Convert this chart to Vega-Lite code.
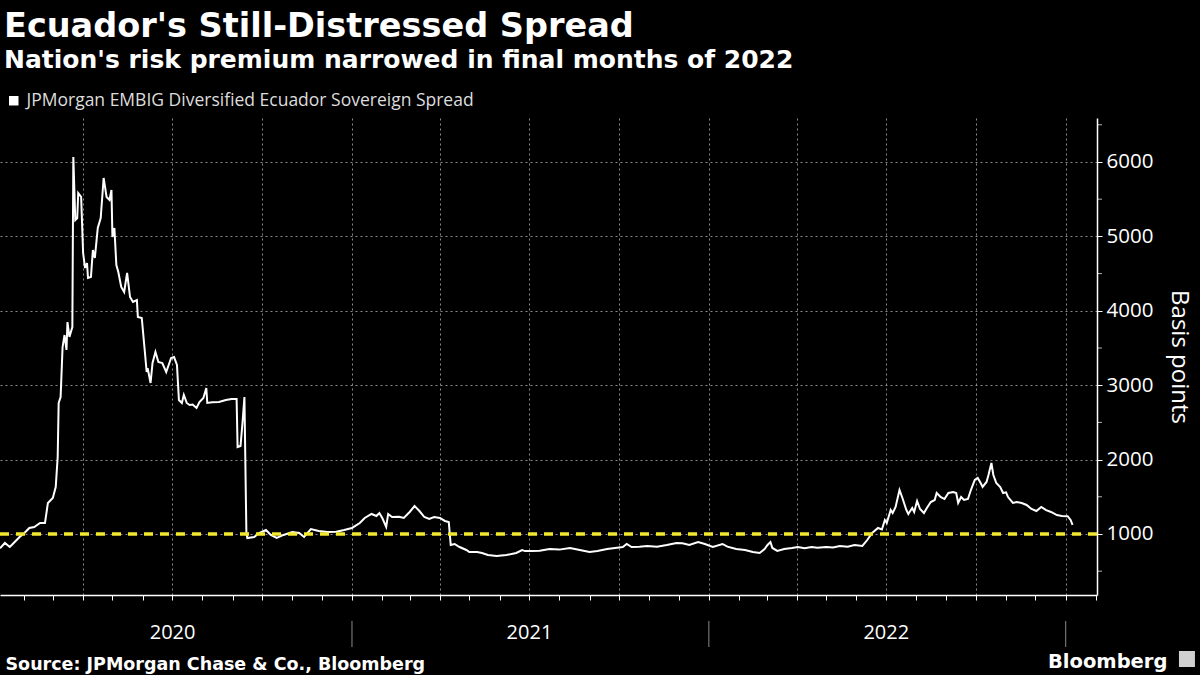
{
  "$schema": "https://vega.github.io/schema/vega-lite/v6.json",
  "width": 1097,
  "height": 477,
  "autosize": {"type": "none"},
  "padding": {"left": 0, "top": 118, "right": 103, "bottom": 80},
  "background": "#000000",
  "title": {
    "text": "Ecuador's Still-Distressed Spread",
    "subtitle": "Nation's risk premium narrowed in final months of 2022",
    "anchor": "start",
    "frame": "group",
    "dx": 4,
    "offset": 18,
    "font": "DejaVu Sans",
    "fontSize": 33.5,
    "fontWeight": "bold",
    "color": "#ffffff",
    "subtitleFont": "DejaVu Sans",
    "subtitleFontSize": 25,
    "subtitleFontWeight": "bold",
    "subtitleColor": "#ffffff",
    "subtitlePadding": 4
  },
  "config": {
    "view": {"stroke": null},
    "axis": {"labelFont": "Open Sans", "titleFont": "Open Sans"}
  },
  "datasets": {
    "spread": [
      {"date": "2020-01-07", "bp": 808}, {"date": "2020-01-12", "bp": 879}, {"date": "2020-01-17", "bp": 825},
      {"date": "2020-01-22", "bp": 892}, {"date": "2020-01-27", "bp": 960}, {"date": "2020-02-01", "bp": 1013},
      {"date": "2020-02-06", "bp": 1081}, {"date": "2020-02-11", "bp": 1094}, {"date": "2020-02-17", "bp": 1148},
      {"date": "2020-02-22", "bp": 1148}, {"date": "2020-02-25", "bp": 1417}, {"date": "2020-03-01", "bp": 1484},
      {"date": "2020-03-04", "bp": 1632}, {"date": "2020-03-06", "bp": 2035}, {"date": "2020-03-07", "bp": 2761},
      {"date": "2020-03-09", "bp": 2841}, {"date": "2020-03-11", "bp": 3513}, {"date": "2020-03-13", "bp": 3674},
      {"date": "2020-03-15", "bp": 3473}, {"date": "2020-03-16", "bp": 3849}, {"date": "2020-03-18", "bp": 3648},
      {"date": "2020-03-21", "bp": 3782}, {"date": "2020-03-22", "bp": 6067}, {"date": "2020-03-24", "bp": 5220},
      {"date": "2020-03-26", "bp": 5247}, {"date": "2020-03-27", "bp": 5583}, {"date": "2020-03-30", "bp": 5530},
      {"date": "2020-04-01", "bp": 4777}, {"date": "2020-04-03", "bp": 4575}, {"date": "2020-04-05", "bp": 4642},
      {"date": "2020-04-06", "bp": 4441}, {"date": "2020-04-09", "bp": 4454}, {"date": "2020-04-11", "bp": 4817},
      {"date": "2020-04-13", "bp": 4710}, {"date": "2020-04-16", "bp": 5113}, {"date": "2020-04-19", "bp": 5247},
      {"date": "2020-04-22", "bp": 5785}, {"date": "2020-04-25", "bp": 5530}, {"date": "2020-04-28", "bp": 5489},
      {"date": "2020-04-30", "bp": 5624}, {"date": "2020-05-01", "bp": 4992}, {"date": "2020-05-03", "bp": 5113},
      {"date": "2020-05-05", "bp": 4615}, {"date": "2020-05-07", "bp": 4521}, {"date": "2020-05-10", "bp": 4320},
      {"date": "2020-05-13", "bp": 4253}, {"date": "2020-05-16", "bp": 4508}, {"date": "2020-05-19", "bp": 4185},
      {"date": "2020-05-22", "bp": 4118}, {"date": "2020-05-26", "bp": 4145}, {"date": "2020-05-27", "bp": 3916},
      {"date": "2020-05-31", "bp": 3903}, {"date": "2020-06-03", "bp": 3473}, {"date": "2020-06-05", "bp": 3177},
      {"date": "2020-06-06", "bp": 3230}, {"date": "2020-06-09", "bp": 3029}, {"date": "2020-06-11", "bp": 3298},
      {"date": "2020-06-14", "bp": 3446}, {"date": "2020-06-17", "bp": 3312}, {"date": "2020-06-21", "bp": 3298},
      {"date": "2020-06-25", "bp": 3177}, {"date": "2020-06-30", "bp": 3365}, {"date": "2020-07-03", "bp": 3379},
      {"date": "2020-07-06", "bp": 3271}, {"date": "2020-07-08", "bp": 2801}, {"date": "2020-07-11", "bp": 2761},
      {"date": "2020-07-13", "bp": 2868}, {"date": "2020-07-16", "bp": 2761}, {"date": "2020-07-19", "bp": 2734},
      {"date": "2020-07-22", "bp": 2740}, {"date": "2020-07-26", "bp": 2694}, {"date": "2020-07-29", "bp": 2774},
      {"date": "2020-08-02", "bp": 2828}, {"date": "2020-08-05", "bp": 2962}, {"date": "2020-08-06", "bp": 2761},
      {"date": "2020-08-11", "bp": 2770}, {"date": "2020-08-18", "bp": 2774}, {"date": "2020-08-25", "bp": 2801},
      {"date": "2020-08-31", "bp": 2814}, {"date": "2020-09-05", "bp": 2814}, {"date": "2020-09-06", "bp": 2169},
      {"date": "2020-09-09", "bp": 2183}, {"date": "2020-09-11", "bp": 2492}, {"date": "2020-09-13", "bp": 2841},
      {"date": "2020-09-15", "bp": 1013}, {"date": "2020-09-16", "bp": 946}, {"date": "2020-09-23", "bp": 960},
      {"date": "2020-09-28", "bp": 1013}, {"date": "2020-10-05", "bp": 1054}, {"date": "2020-10-10", "bp": 987},
      {"date": "2020-10-16", "bp": 946}, {"date": "2020-10-23", "bp": 987}, {"date": "2020-11-01", "bp": 1027},
      {"date": "2020-11-08", "bp": 1013}, {"date": "2020-11-13", "bp": 960}, {"date": "2020-11-20", "bp": 1067},
      {"date": "2020-11-28", "bp": 1040}, {"date": "2020-12-07", "bp": 1027}, {"date": "2020-12-16", "bp": 1030},
      {"date": "2020-12-24", "bp": 1054}, {"date": "2021-01-01", "bp": 1081}, {"date": "2021-01-09", "bp": 1148},
      {"date": "2021-01-14", "bp": 1215}, {"date": "2021-01-21", "bp": 1269}, {"date": "2021-01-26", "bp": 1242},
      {"date": "2021-01-29", "bp": 1282}, {"date": "2021-02-01", "bp": 1215}, {"date": "2021-02-05", "bp": 1094},
      {"date": "2021-02-07", "bp": 1269}, {"date": "2021-02-11", "bp": 1228}, {"date": "2021-02-18", "bp": 1230},
      {"date": "2021-02-23", "bp": 1215}, {"date": "2021-03-01", "bp": 1296}, {"date": "2021-03-06", "bp": 1376},
      {"date": "2021-03-11", "bp": 1309}, {"date": "2021-03-16", "bp": 1228}, {"date": "2021-03-21", "bp": 1202},
      {"date": "2021-03-26", "bp": 1228}, {"date": "2021-04-01", "bp": 1215}, {"date": "2021-04-06", "bp": 1175},
      {"date": "2021-04-10", "bp": 1161}, {"date": "2021-04-12", "bp": 852}, {"date": "2021-04-16", "bp": 866},
      {"date": "2021-04-21", "bp": 825}, {"date": "2021-04-28", "bp": 785}, {"date": "2021-05-01", "bp": 758},
      {"date": "2021-05-09", "bp": 758}, {"date": "2021-05-14", "bp": 745}, {"date": "2021-05-20", "bp": 718},
      {"date": "2021-05-29", "bp": 704}, {"date": "2021-06-08", "bp": 718}, {"date": "2021-06-18", "bp": 745},
      {"date": "2021-06-24", "bp": 785}, {"date": "2021-06-27", "bp": 770}, {"date": "2021-07-04", "bp": 772},
      {"date": "2021-07-12", "bp": 775}, {"date": "2021-07-22", "bp": 798}, {"date": "2021-08-01", "bp": 790},
      {"date": "2021-08-12", "bp": 812}, {"date": "2021-08-22", "bp": 785}, {"date": "2021-09-01", "bp": 758},
      {"date": "2021-09-09", "bp": 770}, {"date": "2021-09-19", "bp": 798}, {"date": "2021-09-27", "bp": 812},
      {"date": "2021-10-05", "bp": 825}, {"date": "2021-10-09", "bp": 866}, {"date": "2021-10-14", "bp": 825},
      {"date": "2021-10-22", "bp": 830}, {"date": "2021-10-30", "bp": 839}, {"date": "2021-11-09", "bp": 830},
      {"date": "2021-11-19", "bp": 852}, {"date": "2021-11-29", "bp": 879}, {"date": "2021-12-05", "bp": 875},
      {"date": "2021-12-12", "bp": 852}, {"date": "2021-12-21", "bp": 892}, {"date": "2021-12-28", "bp": 866},
      {"date": "2022-01-05", "bp": 825}, {"date": "2022-01-15", "bp": 866}, {"date": "2022-01-20", "bp": 830},
      {"date": "2022-01-29", "bp": 798}, {"date": "2022-02-07", "bp": 785}, {"date": "2022-02-15", "bp": 758},
      {"date": "2022-02-22", "bp": 745}, {"date": "2022-02-27", "bp": 798}, {"date": "2022-03-02", "bp": 852},
      {"date": "2022-03-05", "bp": 892}, {"date": "2022-03-07", "bp": 812}, {"date": "2022-03-12", "bp": 772},
      {"date": "2022-03-19", "bp": 798}, {"date": "2022-03-27", "bp": 812}, {"date": "2022-04-02", "bp": 825},
      {"date": "2022-04-09", "bp": 810}, {"date": "2022-04-16", "bp": 825}, {"date": "2022-04-22", "bp": 815},
      {"date": "2022-05-01", "bp": 825}, {"date": "2022-05-08", "bp": 820}, {"date": "2022-05-15", "bp": 839},
      {"date": "2022-05-23", "bp": 830}, {"date": "2022-05-30", "bp": 852}, {"date": "2022-06-07", "bp": 840},
      {"date": "2022-06-12", "bp": 919}, {"date": "2022-06-17", "bp": 1013}, {"date": "2022-06-23", "bp": 1081},
      {"date": "2022-06-27", "bp": 1060}, {"date": "2022-06-30", "bp": 1188}, {"date": "2022-07-02", "bp": 1148},
      {"date": "2022-07-06", "bp": 1323}, {"date": "2022-07-08", "bp": 1282}, {"date": "2022-07-11", "bp": 1363},
      {"date": "2022-07-15", "bp": 1591}, {"date": "2022-07-18", "bp": 1484}, {"date": "2022-07-22", "bp": 1323},
      {"date": "2022-07-24", "bp": 1269}, {"date": "2022-07-28", "bp": 1349}, {"date": "2022-07-30", "bp": 1296},
      {"date": "2022-08-02", "bp": 1444}, {"date": "2022-08-05", "bp": 1336}, {"date": "2022-08-09", "bp": 1282},
      {"date": "2022-08-12", "bp": 1349}, {"date": "2022-08-16", "bp": 1430}, {"date": "2022-08-20", "bp": 1457},
      {"date": "2022-08-22", "bp": 1551}, {"date": "2022-08-26", "bp": 1497}, {"date": "2022-08-30", "bp": 1470},
      {"date": "2022-09-03", "bp": 1551}, {"date": "2022-09-08", "bp": 1565}, {"date": "2022-09-11", "bp": 1550},
      {"date": "2022-09-13", "bp": 1417}, {"date": "2022-09-16", "bp": 1497}, {"date": "2022-09-19", "bp": 1457},
      {"date": "2022-09-23", "bp": 1470}, {"date": "2022-09-26", "bp": 1591}, {"date": "2022-09-30", "bp": 1726},
      {"date": "2022-10-03", "bp": 1753}, {"date": "2022-10-06", "bp": 1685}, {"date": "2022-10-08", "bp": 1632},
      {"date": "2022-10-12", "bp": 1699}, {"date": "2022-10-14", "bp": 1793}, {"date": "2022-10-17", "bp": 1954},
      {"date": "2022-10-19", "bp": 1793}, {"date": "2022-10-22", "bp": 1685}, {"date": "2022-10-26", "bp": 1632},
      {"date": "2022-10-29", "bp": 1551}, {"date": "2022-11-01", "bp": 1560}, {"date": "2022-11-03", "bp": 1497},
      {"date": "2022-11-08", "bp": 1417}, {"date": "2022-11-12", "bp": 1430}, {"date": "2022-11-17", "bp": 1417},
      {"date": "2022-11-22", "bp": 1390}, {"date": "2022-11-27", "bp": 1336}, {"date": "2022-12-02", "bp": 1309},
      {"date": "2022-12-07", "bp": 1363}, {"date": "2022-12-12", "bp": 1320}, {"date": "2022-12-17", "bp": 1296},
      {"date": "2022-12-23", "bp": 1255}, {"date": "2022-12-28", "bp": 1242}, {"date": "2023-01-03", "bp": 1240},
      {"date": "2023-01-06", "bp": 1188}, {"date": "2023-01-08", "bp": 1121}
    ],
    "years": [{"date": "2021-01-01"}, {"date": "2022-01-01"}, {"date": "2023-01-01"}],
    "minor": [{"v": 500}, {"v": 1500}, {"v": 2500}, {"v": 3500}, {"v": 4500}, {"v": 5500}, {"v": 6500}],
    "one": [{}]
  },
  "layer": [
    {
      "data": {"name": "spread"},
      "transform": [{"calculate": "'JPMorgan EMBIG Diversified Ecuador Sovereign Spread'", "as": "series"}],
      "mark": {"type": "line", "strokeWidth": 2, "clip": false},
      "encoding": {
        "x": {
          "field": "date",
          "type": "temporal",
          "scale": {"type": "utc", "domain": [{"year": 2020, "month": 1, "date": 7, "utc": true}, {"year": 2023, "month": 2, "date": 2, "utc": true}]},
          "axis": {
            "title": "Source: JPMorgan Chase & Co., Bloomberg",
            "titleFont": "DejaVu Sans",
            "titleFontSize": 17.5,
            "titleFontWeight": "bold",
            "titleColor": "#ffffff",
            "titleAnchor": "start",
            "titleAlign": "left",
            "titleBaseline": "alphabetic",
            "titleX": 5,
            "titleY": 74,
            "tickCount": {"interval": "month", "step": 1},
            "labelExpr": "utcmonth(datum.value) == 6 ? utcFormat(datum.value, '%Y') : ''",
            "labelOverlap": false,
            "labelBound": false,
            "labelFlush": false,
            "labelFontSize": 20,
            "labelColor": "#ffffff",
            "labelPadding": 22,
            "labelBaseline": "top",
            "domainColor": "#ffffff",
            "domainWidth": 1.5,
            "tickColor": "#ffffff",
            "tickSize": 5,
            "tickWidth": 1,
            "grid": true,
            "gridColor": "#8a8a8a",
            "gridDash": [2, 3],
            "gridWidth": 1,
            "gridOpacity": {"condition": {"test": "utcmonth(datum.value) % 3 == 0", "value": 1}, "value": 0}
          }
        },
        "y": {
          "field": "bp",
          "type": "quantitative",
          "scale": {"domain": [180, 6591], "nice": false, "zero": false},
          "axis": {
            "orient": "right",
            "title": "Basis points",
            "titleFontSize": 24,
            "titleFontWeight": "normal",
            "titleColor": "#ffffff",
            "titleAngle": 90,
            "titlePadding": 14,
            "values": [1000, 2000, 3000, 4000, 5000, 6000],
            "format": "d",
            "labelOverlap": false,
            "labelFontSize": 20.5,
            "labelColor": "#ffffff",
            "labelPadding": 4,
            "domainColor": "#ffffff",
            "domainWidth": 1.5,
            "tickColor": "#ffffff",
            "tickSize": 5,
            "grid": true,
            "gridColor": "#8a8a8a",
            "gridDash": [2, 3],
            "gridWidth": 1
          }
        },
        "color": {
          "field": "series",
          "type": "nominal",
          "scale": {"range": ["#ffffff"]},
          "legend": {
            "title": null,
            "orient": "none",
            "legendX": 5,
            "legendY": -26,
            "symbolType": "square",
            "symbolSize": 90,
            "symbolFillColor": "#ffffff",
            "symbolStrokeWidth": 0,
            "labelFont": "Open Sans",
            "labelFontSize": 17.5,
            "labelColor": "#dddddd",
            "labelLimit": 700
          }
        }
      }
    },
    {
      "data": {"name": "minor"},
      "mark": {"type": "tick", "orient": "horizontal", "size": 5, "thickness": 1, "xOffset": 2.5, "color": "#ffffff", "clip": false},
      "encoding": {
        "x": {"datum": {"year": 2023, "month": 2, "date": 2, "utc": true}, "type": "temporal"},
        "y": {"field": "v", "type": "quantitative"}
      }
    },
    {
      "data": {"name": "one"},
      "mark": {"type": "rule", "color": "#f2e82e", "strokeWidth": 3.5, "strokeDash": [9, 7]},
      "encoding": {"y": {"datum": 1000}}
    },
    {
      "data": {"name": "years"},
      "mark": {"type": "rule", "color": "#8a8a8a", "strokeWidth": 1, "clip": false},
      "encoding": {
        "x": {"field": "date", "type": "temporal"},
        "y": {"datum": -169},
        "y2": {"datum": -519}
      }
    },
    {
      "data": {"name": "one"},
      "mark": {"type": "text", "text": "Bloomberg", "font": "DejaVu Sans", "fontWeight": "bold", "fontSize": 19.5, "color": "#ffffff", "align": "right", "baseline": "alphabetic", "clip": false},
      "encoding": {
        "x": {"datum": {"year": 2023, "month": 4, "date": 15, "utc": true}, "type": "temporal"},
        "y": {"datum": -801}
      }
    },
    {
      "data": {"name": "one"},
      "mark": {"type": "point", "shape": "square", "filled": true, "size": 256, "color": "#d0d0d0", "opacity": 1, "clip": false},
      "encoding": {
        "x": {"datum": {"year": 2023, "month": 5, "date": 5, "utc": true}, "type": "temporal"},
        "y": {"datum": -680}
      }
    }
  ]
}
